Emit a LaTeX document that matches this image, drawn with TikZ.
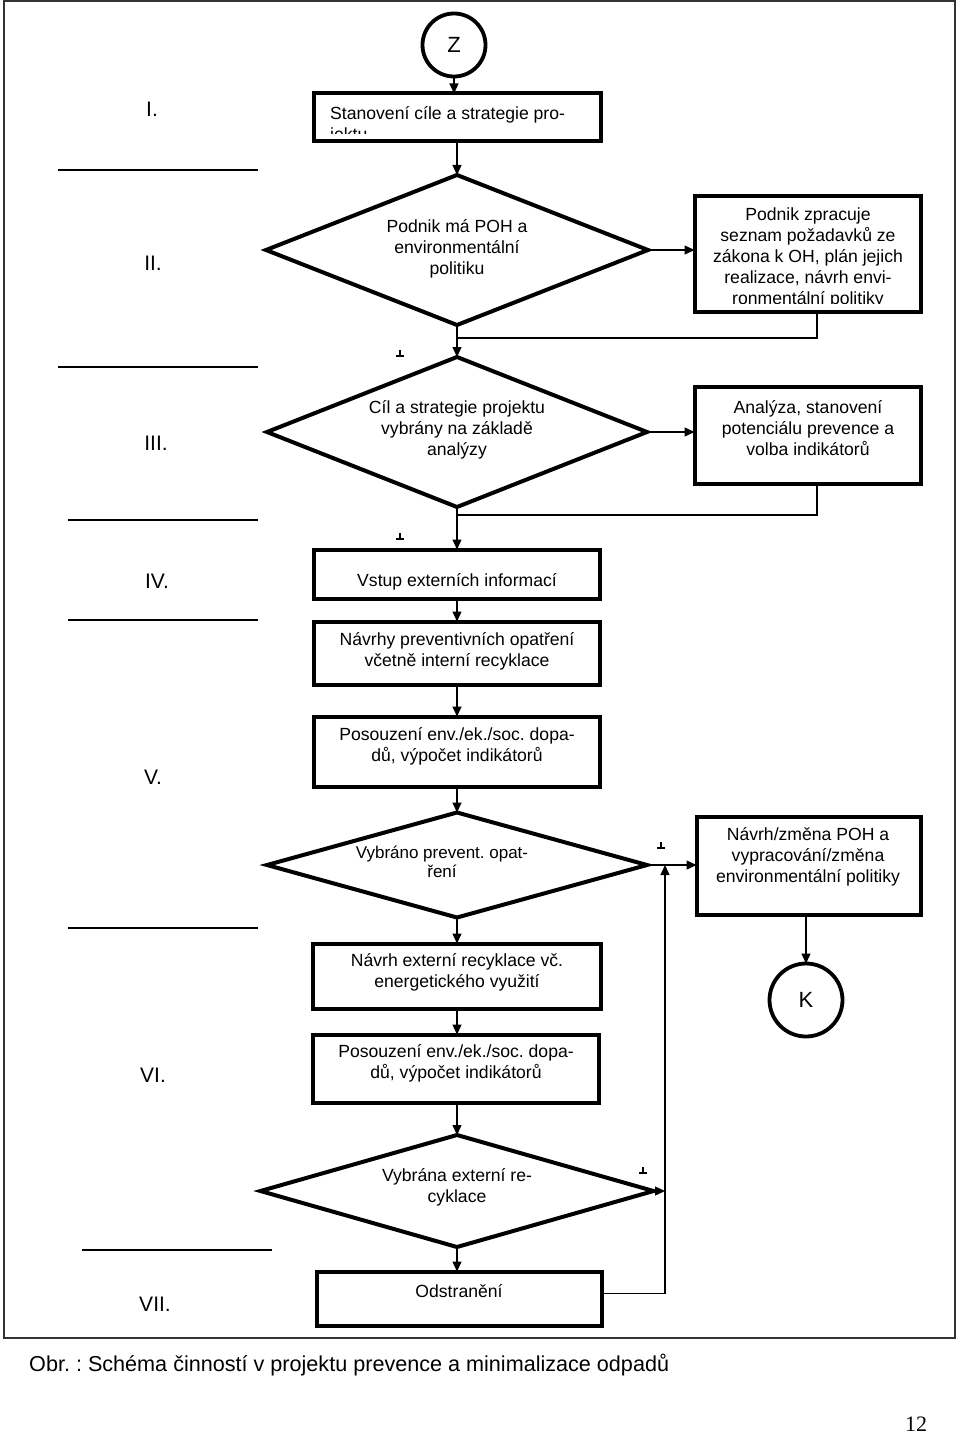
\documentclass[tikz,border=0pt]{standalone}
\usepackage{fontspec}
\setmainfont{Liberation Sans}
\newfontfamily\serifnum{Liberation Serif}
\usetikzlibrary{shapes.geometric,arrows.meta,calc}
\frenchspacing
\begin{document}
\begin{tikzpicture}[x=1pt,y=-1pt,
  box/.style={draw, line width=4pt, rectangle, inner sep=0pt, outer sep=0pt},
  dia/.style={draw, line width=4pt, diamond, inner sep=0pt, outer sep=0pt},
  circ/.style={draw, line width=3.8pt, circle, inner sep=0pt, outer sep=0pt},
  con/.style={line width=1.3pt},
  arr/.style={con, -{Triangle[length=10pt,width=9pt]}},
  txt/.style={inner sep=0pt, align=center, font=\fontsize{17.6}{21}\selectfont},
  lab/.style={inner sep=0pt, font=\fontsize{21}{24}\selectfont},
  sep/.style={line width=1.3pt},
  tickmark/.style={line width=1.1pt}
  ]
\useasboundingbox (0,0) rectangle (960,1434);
% frame
\draw[line width=2pt, black!80] (4,1) rectangle (955,1338);

% left labels and separators
\node[lab] (l1) at (152,109) {I.};
\node[lab] (l2) at (153,263) {II.};
\node[lab] (l3) at (156,443) {III.};
\node[lab] (l4) at (157,581) {IV.};
\node[lab] (l5) at (153,777) {V.};
\node[lab] (l6) at (153,1075) {VI.};
\node[lab] (l7) at (155,1304) {VII.};
\draw[sep] (58,170) -- (258,170);
\draw[sep] (58,367) -- (258,367);
\draw[sep] (68,520) -- (258,520);
\draw[sep] (68,620) -- (258,620);
\draw[sep] (68,928) -- (258,928);
\draw[sep] (82,1250) -- (272,1250);

% nodes
\node[circ, minimum size=63pt] (Z) at (454,45) {\fontsize{22}{24}\selectfont Z};
\node[box, minimum width=287pt, minimum height=48pt] (b1) at (457,117.5) {};
\begin{scope}
  \clip (314,95) rectangle (600,133.5);
  \node[txt, align=left, anchor=west] (b1t) at (330,125) {Stanovení cíle a strategie pro-\\jektu};
\end{scope}

\node[dia, minimum width=382pt, minimum height=150pt] (d2) at (457,250) {};
\node[txt] (d2t) at (457,249) {Podnik má POH a\\environmentální\\politiku};

\node[box, minimum width=226pt, minimum height=115pt] (r2) at (807.5,254) {};
\begin{scope}
  \clip (697,199) rectangle (918,303.5);
  \node[txt] (r2t) at (808,258) {Podnik zpracuje\\seznam požadavků ze\\zákona k OH, plán jejich\\realizace, návrh envi-\\ronmentální politiky};
\end{scope}

\node[dia, minimum width=380pt, minimum height=150pt] (d3) at (457,432) {};
\node[txt] (d3t) at (457,430) {Cíl a strategie projektu\\vybrány na základě\\analýzy};

\node[box, minimum width=226pt, minimum height=97pt] (r3) at (807.5,435) {};
\node[txt] (r3t) at (808,428) {Analýza, stanovení\\potenciálu prevence a\\volba indikátorů};

\node[box, minimum width=286pt, minimum height=49pt] (vs) at (457,574) {};
\node[txt] (vst) at (457,582) {Vstup externích informací};

\node[box, minimum width=286pt, minimum height=63pt] (na) at (457,653) {};
\node[txt] (nat) at (457,651) {Návrhy preventivních opatření\\včetně interní recyklace};

\node[box, minimum width=286pt, minimum height=70pt] (p1) at (457,751.5) {};
\node[txt] (p1t) at (457,746) {Posouzení env./ek./soc. dopa-\\dů, výpočet indikátorů};

\node[dia, minimum width=380pt, minimum height=105pt] (d4) at (457,865) {};
\node[txt, font=\fontsize{17}{19}\selectfont] (d4t) at (442,862) {Vybráno prevent. opat-\\ření};

\node[box, minimum width=224pt, minimum height=98pt] (r4) at (808.5,865.5) {};
\node[txt] (r4t) at (808,857) {Návrh/změna POH a\\vypracování/změna\\environmentální politiky};

\node[circ, minimum size=73pt] (K) at (806,1000) {\fontsize{22}{24}\selectfont K};

\node[box, minimum width=288pt, minimum height=65pt] (ne) at (457,976) {};
\node[txt] (net) at (457,972) {Návrh externí recyklace vč.\\energetického využití};

\node[box, minimum width=286pt, minimum height=68pt] (p2) at (456,1068.5) {};
\node[txt] (p2t) at (456,1063) {Posouzení env./ek./soc. dopa-\\dů, výpočet indikátorů};

\node[dia, minimum width=393pt, minimum height=112pt] (d5) at (457,1191) {};
\node[txt] (d5t) at (457,1187) {Vybrána externí re-\\cyklace};

\node[box, minimum width=285pt, minimum height=54pt] (od) at (459,1298.5) {};
\node[txt] (odt) at (459,1291) {Odstranění};

% connectors
\coordinate (j2) at (817,338);
\coordinate (j3) at (817,515);
\coordinate (jx) at (665,0);
\draw[arr] (Z.south) -- (Z.south |- b1.north);
\draw[arr] (b1.south -| d2.north) -- (d2.north);
\draw[arr] (d2.east) -- (d2.east -| r2.west);
\draw[arr] (d2.south) -- (d3.north);
\draw[con] (r2.south -| j2) |- (d2.south |- j2);
\draw[arr] (d3.east) -- (d3.east -| r3.west);
\draw[con] (r3.south -| j3) |- (d3.south |- j3);
\draw[arr] (d3.south) -- (d3.south |- vs.north);
\draw[arr] (vs.south) -- (na.north);
\draw[arr] (na.south) -- (p1.north);
\draw[arr] (p1.south) -- (d4.north);
\draw[arr] (d4.east) -- (d4.east -| r4.west);
\draw[arr] (r4.south -| K.north) -- (K.north);
\draw[arr] (d4.south) -- (ne.north);
\draw[arr] (ne.south) -- (ne.south |- p2.north);
\draw[arr] (p2.south -| d5.north) -- (d5.north);
\draw[arr] (d5.south) -- (d5.south |- od.north);
\draw[arr] (d5.east) -- (d5.east -| jx);
\draw[arr] ([yshift=5pt]od.east) -| (d4.east -| jx);

% small marks
\draw[tickmark] (396,356) -- (404,356) (400,356) -- (400,350);
\draw[tickmark] (396,539) -- (404,539) (400,539) -- (400,533);
\draw[tickmark] (657,848) -- (665,848) (661,848) -- (661,842);
\draw[tickmark] (639,1173) -- (647,1173) (643,1173) -- (643,1167);

% caption and page number
\node[anchor=base west, inner sep=0pt, font=\fontsize{21.6}{24}\selectfont] (cap) at (29,1371) {Obr. : Schéma činností v projektu prevence a minimalizace odpadů};
\node[anchor=base, inner sep=0pt, font=\serifnum\fontsize{22}{24}\selectfont] (pg) at (916,1431) {12};
\end{tikzpicture}
\end{document}
